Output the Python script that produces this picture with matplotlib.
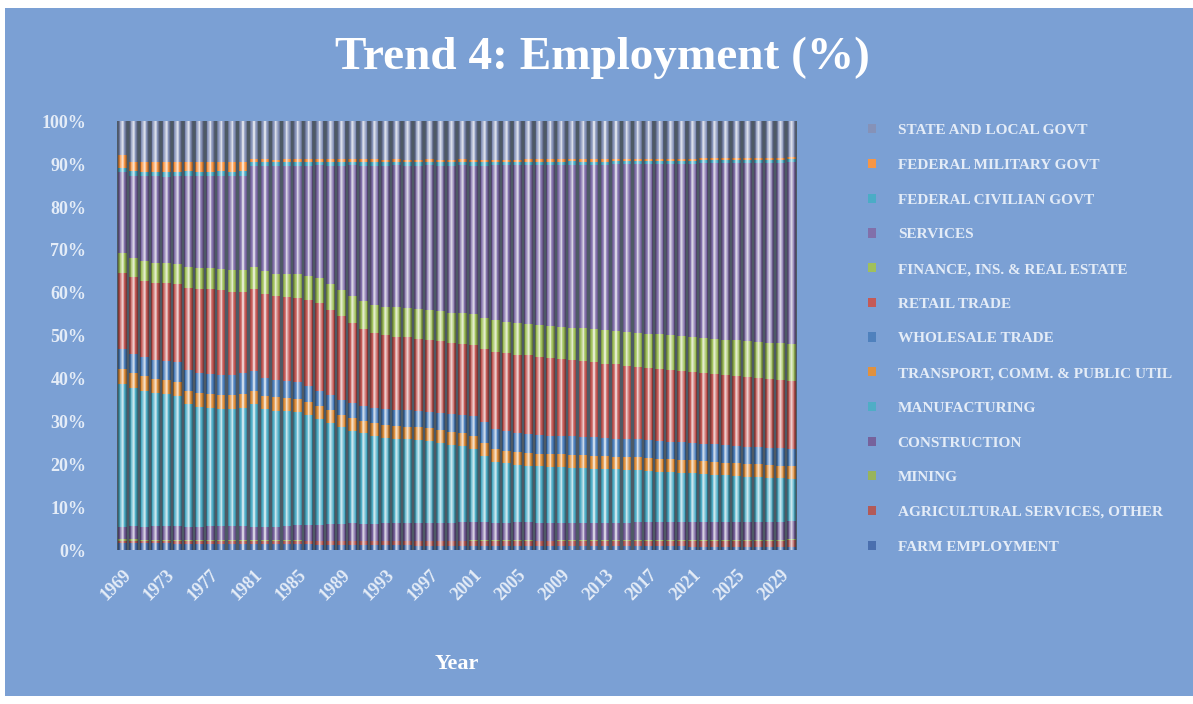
import numpy as np
import matplotlib.pyplot as plt
from matplotlib.patches import Patch, Rectangle
from matplotlib.colors import to_rgb

years = list(range(1969, 2031))

farm = [1.7, 1.7, 1.6, 1.6, 1.6, 1.5, 1.5, 1.5, 1.5, 1.4, 1.4, 1.4,
        1.4, 1.4, 1.3, 1.3, 1.3, 1.3, 1.2, 1.2, 1.2, 1.2, 1.1, 1.1,
        1.1, 1.1, 1.1, 1.0, 1.0, 1.0, 1.0, 1.0, 1.0, 1.0, 1.0, 1.0,
        1.0, 1.0, 0.9, 0.9, 0.9, 0.9, 0.9, 0.9, 0.9, 0.9, 0.9, 0.9,
        0.9, 0.9, 0.9, 0.9, 0.8, 0.8, 0.8, 0.8, 0.8, 0.8, 0.8, 0.8, 0.8, 0.8]
ag_services = [0.5, 0.5, 0.5, 0.5, 0.5, 0.5, 0.6, 0.6, 0.6, 0.6, 0.6, 0.6,
               0.6, 0.6, 0.7, 0.7, 0.7, 0.7, 0.8, 0.8, 0.8, 0.8, 0.9, 0.9,
               0.9, 0.9, 0.9, 1.0, 1.0, 1.0, 1.0, 1.0, 1.1, 1.1, 1.1, 1.1,
               1.1, 1.1, 1.1, 1.1, 1.2, 1.2, 1.2, 1.2, 1.2, 1.2, 1.2, 1.3,
               1.3, 1.3, 1.3, 1.3, 1.3, 1.3, 1.4, 1.4, 1.4, 1.4, 1.4, 1.4, 1.4, 1.5]
mining = [0.3] * 17 + [0.2] * 45
construction = [2.9, 3.0, 3.0, 3.1, 3.2, 3.2, 3.0, 3.0, 3.1, 3.2, 3.3, 3.2,
                3.1, 3.0, 3.1, 3.3, 3.5, 3.6, 3.7, 3.8, 3.9, 4.0, 3.9, 3.9,
                4.0, 4.1, 4.1, 4.1, 4.2, 4.2, 4.2, 4.3, 4.2, 4.2, 4.1, 4.1,
                4.2, 4.2, 4.2, 4.1, 4.0, 4.0, 4.0, 4.1, 4.1, 4.1, 4.1, 4.1,
                4.1, 4.1, 4.1, 4.1, 4.2, 4.2, 4.2, 4.2, 4.2, 4.2, 4.2, 4.2, 4.2, 4.2]
manufacturing = [33.4, 32.3, 31.8, 31.1, 30.8, 30.5, 28.6, 28.0, 27.7, 27.5, 27.4, 27.7,
                 28.6, 27.5, 27.0, 26.8, 26.4, 25.6, 24.7, 23.6, 22.5, 21.6, 21.1, 20.5,
                 20.0, 19.7, 19.5, 19.3, 19.0, 18.6, 18.2, 17.7, 17.1, 15.5, 14.2, 13.8,
                 13.3, 13.1, 13.1, 13.1, 13.0, 12.9, 12.8, 12.6, 12.5, 12.4, 12.3, 12.1,
                 12.0, 11.8, 11.7, 11.5, 11.4, 11.2, 11.0, 10.8, 10.7, 10.5, 10.4, 10.2, 10.1, 9.8]
transport = [3.4, 3.4, 3.3, 3.3, 3.3, 3.3, 3.2, 3.2, 3.2, 3.2, 3.2, 3.2,
             3.2, 3.2, 3.2, 3.1, 3.1, 3.1, 3.0, 3.0, 3.0, 3.0, 3.0, 3.0,
             3.0, 3.0, 3.0, 3.0, 3.0, 3.0, 3.0, 3.0, 3.0, 3.0, 3.0, 3.0,
             3.0, 3.0, 3.0, 3.0, 3.0, 3.0, 3.0, 3.0, 3.0, 3.0, 3.0, 3.0,
             3.0, 3.0, 3.0, 3.0, 3.0, 3.0, 3.0, 3.0, 3.0, 3.0, 3.0, 3.0, 3.0, 3.0]
wholesale = [4.7, 4.6, 4.5, 4.5, 4.5, 4.5, 4.8, 4.6, 4.6, 4.6, 4.6, 4.8,
             4.6, 4.2, 4.0, 3.9, 3.8, 3.8, 3.6, 3.5, 3.5, 3.5, 3.5, 3.6,
             3.7, 3.7, 3.8, 3.8, 3.9, 4.0, 4.2, 4.4, 4.6, 4.8, 4.6, 4.5,
             4.4, 4.4, 4.4, 4.3, 4.3, 4.3, 4.3, 4.3, 4.2, 4.2, 4.2, 4.2,
             4.2, 4.2, 4.1, 4.1, 4.1, 4.1, 4.1, 4.0, 4.0, 4.0, 4.0, 4.0, 4.0, 4.0]
retail = [17.8, 17.8, 17.7, 17.9, 18.0, 18.2, 19.1, 19.7, 19.8, 19.8, 19.5, 18.9,
          19.0, 19.6, 19.6, 19.7, 19.7, 20.1, 20.4, 20.0, 19.5, 18.6, 17.8, 17.4,
          17.2, 17.1, 17.0, 16.9, 16.8, 16.8, 16.6, 16.5, 16.7, 17.2, 18.1, 18.3,
          18.4, 18.4, 18.1, 18.1, 17.9, 17.8, 17.6, 17.5, 17.4, 17.3, 17.1, 17.0,
          16.8, 16.8, 16.7, 16.7, 16.5, 16.5, 16.3, 16.4, 16.2, 16.2, 16.1, 16.1, 15.9, 16.0]
finance = [4.6, 4.6, 4.7, 4.7, 4.8, 4.8, 4.9, 4.9, 5.0, 5.0, 5.1, 5.1,
           5.2, 5.2, 5.3, 5.4, 5.5, 5.6, 5.8, 5.9, 6.1, 6.3, 6.5, 6.6,
           6.7, 6.8, 6.8, 6.9, 6.9, 7.0, 7.0, 7.1, 7.1, 7.2, 7.3, 7.3,
           7.4, 7.4, 7.5, 7.5, 7.6, 7.6, 7.7, 7.7, 7.8, 7.8, 7.9, 7.9,
           8.0, 8.0, 8.1, 8.1, 8.2, 8.2, 8.3, 8.3, 8.4, 8.4, 8.5, 8.5, 8.6, 8.6]
services = [18.8, 19.1, 19.8, 20.2, 20.1, 20.4, 21.3, 21.4, 21.4, 21.7, 21.8, 22.1,
            23.6, 24.6, 25.0, 25.1, 25.3, 25.6, 26.3, 27.6, 28.9, 30.5, 31.6, 32.4,
            32.8, 33.1, 33.2, 33.4, 33.7, 33.8, 34.2, 34.5, 34.6, 35.4, 36.1, 36.4,
            36.7, 37.0, 37.3, 37.5, 37.7, 38.0, 38.2, 38.4, 38.6, 38.9, 39.1, 39.3,
            39.5, 39.8, 40.0, 40.2, 40.4, 40.7, 40.9, 41.1, 41.3, 41.6, 41.7, 41.9, 42.1, 42.3]
federal_civilian = [1.0] * 12 + [0.9] * 12 + [0.8] * 18 + [0.7] * 20
federal_military = [3.1] + [2.3] * 11 + [0.6] * 20 + [0.5] * 30
state_local = [7.8, 9.4, 9.5, 9.5, 9.6, 9.5, 9.4, 9.5, 9.5, 9.4, 9.5, 9.4,
               8.9, 8.9, 9.0, 8.9, 8.9, 8.9, 8.8, 8.9, 8.9, 8.8, 8.9, 8.9,
               9.0, 8.9, 9.0, 9.0, 8.9, 9.0, 9.0, 8.9, 9.1, 9.1, 9.0, 9.0,
               9.0, 8.9, 8.9, 8.9, 8.9, 8.8, 8.9, 8.9, 8.9, 8.8, 8.8, 8.8,
               8.8, 8.7, 8.7, 8.7, 8.7, 8.6, 8.6, 8.6, 8.6, 8.5, 8.5, 8.5, 8.5, 8.4]

# stacking order, bottom to top
sectors = [
    ('FARM EMPLOYMENT', farm, '#4a6fae'),
    ('AGRICULTURAL SERVICES, OTHER', ag_services, '#b25a58'),
    ('MINING', mining, '#98b45c'),
    ('CONSTRUCTION', construction, '#76629c'),
    ('MANUFACTURING', manufacturing, '#4fadc6'),
    ('TRANSPORT, COMM. & PUBLIC UTIL', transport, '#e0913f'),
    ('WHOLESALE TRADE', wholesale, '#4f81bd'),
    ('RETAIL TRADE', retail, '#c45a57'),
    ('FINANCE, INS. & REAL ESTATE', finance, '#a0c05c'),
    ('SERVICES', services, '#8170aa'),
    ('FEDERAL CIVILIAN GOVT', federal_civilian, '#4bacc6'),
    ('FEDERAL MILITARY GOVT', federal_military, '#f79646'),
    ('STATE AND LOCAL GOVT', state_local, '#8592b8'),
]


def shade(color, amount):
    # amount > 0 mixes toward white, < 0 toward black
    c = np.array(to_rgb(color))
    if amount >= 0:
        return tuple(c + (1 - c) * amount)
    return tuple(c * (1 + amount))


values = np.array([s[1] for s in sectors], dtype=float)
pct = values / values.sum(axis=0) * 100
x = np.arange(len(years))

bg = '#7ba0d4'
txt = '#e4ecf7'
serif = 'Liberation Serif'

fig = plt.figure(figsize=(11.93, 7.04), dpi=100)
fig.patch.set_facecolor('white')
fig.add_artist(Rectangle((0.004, 0.0114), 0.996, 0.9772, transform=fig.transFigure,
                         facecolor=bg, edgecolor='none', zorder=-10))

ax = fig.add_axes([0.098, 0.2187, 0.570, 0.609])
ax.set_facecolor('#4e5a65')

# glossy columns: dark rim fading to a light centre streak
layers = [(0.80, -0.38), (0.66, -0.18), (0.52, 0.0), (0.38, 0.22),
          (0.24, 0.46), (0.10, 0.7)]
bottom = np.zeros(len(years))
for (name, _, color), p in zip(sectors, pct):
    for width, amt in layers:
        ax.bar(x, p, width=width, bottom=bottom, color=shade(color, amt),
               edgecolor='none', linewidth=0)
    bottom += p

ax.set_xlim(-0.5, len(years) - 0.5)
ax.set_ylim(0, 100)
for s in ax.spines.values():
    s.set_visible(False)

ax.set_yticks(np.arange(0, 101, 10))
ax.set_yticklabels([f'{v}%' for v in range(0, 101, 10)])
tick_idx = [i for i, y in enumerate(years) if (y - 1969) % 4 == 0]
ax.set_xticks(tick_idx)
ax.set_xticklabels([str(years[i]) for i in tick_idx], rotation=45, ha='right',
                   rotation_mode='anchor')
ax.tick_params(axis='y', length=0, pad=22, colors=txt)
ax.tick_params(axis='x', length=0, pad=12, colors=txt)
for lab in ax.get_yticklabels() + ax.get_xticklabels():
    lab.set_fontfamily(serif)
    lab.set_fontsize(13)
    lab.set_fontweight('bold')
    lab.set_color(txt)

ax.set_xlabel('Year', fontsize=16, fontweight='bold', family=serif, color='white',
              labelpad=36)

fig.text(0.505, 1 - 58 / 704, 'Trend 4: Employment (%)', ha='center', va='center',
         fontsize=34, fontweight='bold', family=serif, color='white')

handles = [Patch(facecolor=c, edgecolor='none') for _, _, c in sectors][::-1]
labels = [n for n, _, _ in sectors][::-1]
leg = fig.legend(handles, labels, loc='upper left', bbox_to_anchor=(0.716, 0.843),
                 frameon=False, handlelength=0.55, handleheight=0.55,
                 handletextpad=1.4, labelspacing=1.42,
                 prop={'family': serif, 'size': 11, 'weight': 'bold'})
for t in leg.get_texts():
    t.set_color(txt)

fig.savefig('out.png', dpi=100, facecolor=fig.get_facecolor())
